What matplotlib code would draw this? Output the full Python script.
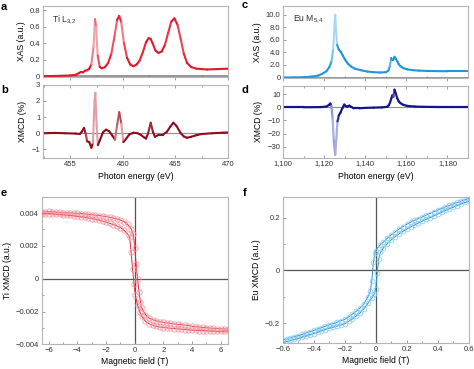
import numpy as np
import matplotlib
matplotlib.use("Agg")
import matplotlib.pyplot as plt
from matplotlib.collections import LineCollection
from matplotlib.ticker import MultipleLocator, FixedLocator, FuncFormatter
from matplotlib.colors import to_rgb

plt.rcParams['font.family'] = ['Liberation Sans', 'DejaVu Sans']
plt.rcParams['mathtext.fontset'] = 'custom'
plt.rcParams['mathtext.rm'] = 'Liberation Sans'
plt.rcParams['mathtext.it'] = 'Liberation Sans'

# ---------------- data ----------------
# a: Ti L3,2 XAS
ti_xas_E = [452.5, 453.0, 454.0, 455.0, 455.5, 455.8, 456.0, 456.2, 456.4, 456.6, 456.8, 457.0,
            457.2, 457.35, 457.45, 457.6, 457.8, 458.0, 458.3, 458.6, 458.9, 459.2, 459.45,
            459.65, 459.85, 460.1, 460.4, 460.7, 461.0, 461.3, 461.6, 461.9, 462.2, 462.45,
            462.65, 462.85, 463.1, 463.4, 463.7, 464.0, 464.3, 464.6, 464.9, 465.2, 465.5,
            465.8, 466.1, 466.5, 467.0, 468.0, 469.0, 470.0]
ti_xas = [0.0, 0.0, 0.003, 0.008, 0.015, 0.035, 0.05, 0.045, 0.065, 0.07, 0.09, 0.14,
          0.35, 0.69, 0.6, 0.25, 0.11, 0.095, 0.11, 0.16, 0.27, 0.48, 0.68,
          0.73, 0.65, 0.4, 0.22, 0.14, 0.12, 0.14, 0.19, 0.29, 0.41, 0.46,
          0.45, 0.39, 0.31, 0.28, 0.3, 0.38, 0.52, 0.66, 0.70, 0.62, 0.45,
          0.27, 0.16, 0.11, 0.09, 0.08, 0.085, 0.09]

# b: Ti XMCD (%)
ti_xmcd_E = [452.5, 453.5, 454.5, 455.5, 455.9, 456.1, 456.3, 456.45, 456.6, 456.8, 457.0, 457.15,
             457.3, 457.38, 457.5, 457.62, 457.8, 458.1, 458.4, 458.7, 459.0, 459.25, 459.45,
             459.65, 459.85, 460.05, 460.3, 460.6, 461.0, 461.4, 461.7, 462.0, 462.2, 462.4,
             462.65, 462.85, 463.05, 463.4, 463.8, 464.2, 464.5, 464.8, 465.1, 465.5, 465.8,
             466.1, 466.5, 467.0, 467.5, 468.5, 469.5, 470.0]
ti_xmcd = [0.0, 0.02, 0.0, -0.02, -0.05, 0.1, 0.33, 0.0, -0.5, -0.55, -0.9, -0.6,
           2.0, 2.5, 0.5, -0.74, -0.45, 0.05, 0.22, 0.12, -0.15, -0.4, 0.5,
           1.3, 0.6, -0.55, -0.35, -0.08, 0.03, 0.0, -0.1, -0.25, -0.33, 0.0,
           0.65, 0.1, -0.22, -0.1, -0.1, 0.1, 0.4, 0.65, 0.45, 0.0, -0.2,
           -0.28, -0.22, -0.12, -0.05, 0.0, 0.03, 0.05]

# c: Eu M5,4 XAS
eu_xas_E = [1100, 1105, 1110, 1114, 1117, 1119, 1121, 1122.5, 1123.5, 1124.3, 1125.0, 1125.3,
            1125.7, 1126.2, 1127, 1128, 1129, 1130, 1131.5, 1133, 1135, 1138, 1141, 1144,
            1147, 1150, 1151.2, 1151.9, 1152.6, 1153.2, 1153.6, 1154.2, 1154.8, 1155.5,
            1156.3, 1157.1, 1158.5, 1160.4, 1163, 1166, 1170, 1175, 1180, 1185, 1190]
eu_xas = [0.0, 0.02, 0.05, 0.15, 0.3, 0.6, 1.0, 1.7, 2.6, 4.5, 8.5, 10.0,
          7.5, 5.2, 4.5, 4.1, 3.5, 2.9, 2.2, 1.75, 1.4, 1.15, 0.95, 0.85,
          0.8, 0.85, 1.1, 1.8, 3.1, 2.8, 2.85, 3.3, 3.0, 2.6,
          2.1, 1.8, 1.5, 1.3, 1.17, 1.1, 1.05, 1.02, 1.0, 1.0, 1.0]

# d: Eu XMCD (%)
eu_xmcd_E = [1100, 1110, 1118, 1121, 1122.3, 1122.9, 1123.4, 1124.0, 1124.6, 1125.3, 1125.8,
             1126.4, 1127.1, 1127.8, 1128.7, 1129.7, 1130.5, 1131.2, 1132.2, 1133.2, 1134.3,
             1137, 1140, 1144, 1148, 1150.6, 1151.4, 1152.0, 1152.6, 1153.1, 1153.6, 1154.2,
             1154.8, 1155.5, 1156.2, 1157.1, 1158.5, 1160.4, 1164, 1168.5, 1175, 1182, 1190]
eu_xmcd = [0.0, 0.0, 0.1, 0.5, 1.8, 2.8, 1.0, -8, -25, -36, -25,
           -10.7, -6, -4.3, -1.0, 2.0, 0.8, 0.5, 1.2, 0.2, -0.8,
           -0.8, -0.5, -0.3, -0.1, 0.3, 1.5, 3.5, 6.5, 8.9, 7.8, 13.3,
           10.5, 6.9, 4.5, 3.1, 1.8, 1.0, 0.5, 0.3, 0.2, 0.2, 0.2]

# e: Ti XMCD hysteresis (upper and lower branches), value in 1e-3 a.u.
ti_H_up = [-6.5, -6.25, -6.0, -5.75, -5.5, -5.25, -5.0, -4.75, -4.5, -4.25, -4.0, -3.75, -3.5,
           -3.25, -3.0, -2.75, -2.5, -2.25, -2.0, -1.75, -1.5, -1.25, -1.0, -0.75, -0.5, -0.25,
           -0.1, 0.0, 0.1, 0.2, 0.3, 0.4, 0.5, 0.75, 1.0, 1.25, 1.5, 1.75, 2.0, 2.25, 2.5, 2.75,
           3.0, 3.25, 3.5, 3.75, 4.0, 4.25, 4.5, 4.75, 5.0, 5.25, 5.5, 5.75, 6.0, 6.25, 6.5]
ti_up = [4.05, 4.08, 4.10, 4.08, 4.06, 4.04, 4.03, 4.02, 4.01, 4.00, 3.99, 3.97, 3.95,
         3.93, 3.90, 3.88, 3.85, 3.82, 3.78, 3.74, 3.70, 3.65, 3.58, 3.48, 3.32, 3.05,
         2.7, 1.9, 0.9, 0.0, -0.8, -1.4, -1.8, -2.2, -2.4, -2.5, -2.57, -2.62, -2.66, -2.70,
         -2.73, -2.76, -2.78, -2.80, -2.83, -2.86, -2.90, -2.93, -2.95, -2.97, -2.99, -3.01,
         -3.02, -3.04, -3.05, -3.06, -3.08]
ti_H_lo = [-6.5, -6.25, -6.0, -5.75, -5.5, -5.25, -5.0, -4.75, -4.5, -4.25, -4.0, -3.75, -3.5,
           -3.25, -3.0, -2.75, -2.5, -2.25, -2.0, -1.75, -1.5, -1.25, -1.0, -0.75, -0.5, -0.35,
           -0.25, -0.15, -0.05, 0.05, 0.2, 0.35, 0.5, 0.75, 1.0, 1.25, 1.5, 1.75, 2.0, 2.25,
           2.5, 2.75, 3.0, 3.25, 3.5, 3.75, 4.0, 4.25, 4.5, 4.75, 5.0, 5.25, 5.5, 5.75, 6.0,
           6.25, 6.5]
ti_lo = [3.95, 3.97, 3.97, 3.96, 3.94, 3.92, 3.90, 3.88, 3.86, 3.83, 3.80, 3.77, 3.74,
         3.70, 3.66, 3.62, 3.57, 3.51, 3.45, 3.38, 3.30, 3.22, 3.12, 2.95, 2.72, 2.55,
         1.6, 0.6, -0.3, -1.0, -1.6, -2.0, -2.3, -2.6, -2.75, -2.83, -2.90, -2.95, -2.98,
         -3.0, -3.02, -3.04, -3.06, -3.08, -3.10, -3.12, -3.14, -3.15, -3.16, -3.17, -3.18,
         -3.19, -3.20, -3.20, -3.21, -3.20, -3.19]

# f: Eu XMCD hysteresis
eu_H_up = [-0.6, -0.575, -0.55, -0.525, -0.5, -0.475, -0.45, -0.425, -0.4, -0.375, -0.35,
           -0.325, -0.3, -0.275, -0.25, -0.225, -0.2, -0.175, -0.15, -0.125, -0.1, -0.075,
           -0.05, -0.035, -0.025, -0.015, -0.005, 0.0, 0.025, 0.05, 0.075, 0.1, 0.125, 0.15,
           0.175, 0.2, 0.225, 0.25, 0.275, 0.3, 0.325, 0.35, 0.375, 0.4, 0.425, 0.45, 0.475,
           0.5, 0.525, 0.55, 0.575, 0.6]
eu_up = [-0.265, -0.261, -0.257, -0.252, -0.248, -0.243, -0.238, -0.233, -0.228, -0.223, -0.218,
         -0.212, -0.207, -0.202, -0.197, -0.192, -0.186, -0.177, -0.166, -0.155, -0.142, -0.126,
         -0.100, -0.08, -0.04, 0.03, 0.065, 0.075, 0.095, 0.108, 0.122, 0.135, 0.146, 0.157,
         0.166, 0.175, 0.183, 0.190, 0.197, 0.203, 0.210, 0.216, 0.223, 0.229, 0.235, 0.241,
         0.247, 0.252, 0.258, 0.263, 0.268, 0.273]
eu_H_lo = [-0.6, -0.575, -0.55, -0.525, -0.5, -0.475, -0.45, -0.425, -0.4, -0.375, -0.35,
           -0.325, -0.3, -0.275, -0.25, -0.225, -0.2, -0.175, -0.15, -0.125, -0.1, -0.075,
           -0.05, -0.025, -0.01, 0.0, 0.01, 0.02, 0.03, 0.05, 0.075, 0.1, 0.125, 0.15, 0.175,
           0.2, 0.225, 0.25, 0.275, 0.3, 0.325, 0.35, 0.375, 0.4, 0.425, 0.45, 0.475, 0.5,
           0.525, 0.55, 0.575, 0.6]
eu_lo = [-0.274, -0.270, -0.266, -0.262, -0.258, -0.254, -0.250, -0.245, -0.240, -0.235, -0.230,
         -0.225, -0.220, -0.216, -0.212, -0.208, -0.203, -0.194, -0.184, -0.173, -0.161, -0.145,
         -0.125, -0.105, -0.09, -0.07, -0.01, 0.045, 0.068, 0.086, 0.102, 0.116, 0.128, 0.139,
         0.148, 0.157, 0.165, 0.172, 0.180, 0.187, 0.194, 0.200, 0.207, 0.214, 0.221, 0.228,
         0.234, 0.240, 0.246, 0.252, 0.258, 0.263]

# ---------------- style helpers ----------------
SPINE = '#b5b5b5'
TICKC = '#777777'
LAB = 6.2
TLAB = 5.5


def style(ax):
    for s in ax.spines.values():
        s.set_color(SPINE)
        s.set_linewidth(0.8)
    ax.tick_params(which='both', direction='in', color=TICKC, width=0.5,
                   labelsize=TLAB, pad=2, labelcolor='#333333')
    ax.tick_params(which='major', length=2.5)
    ax.tick_params(which='minor', length=1.5)


def grad_line(ax, x, y, base, light, lw, thr=2.0, span=8.0):
    x = np.asarray(x, float)
    y = np.asarray(y, float)
    pts = ax.transData.transform(np.column_stack([x, y]))
    segs = np.stack([np.column_stack([x[:-1], y[:-1]]), np.column_stack([x[1:], y[1:]])], axis=1)
    d = np.diff(pts, axis=0)
    slope = np.abs(d[:, 1]) / (np.abs(d[:, 0]) + 1e-6)
    frac = np.clip((slope - thr) / span, 0, 1) * 0.85
    b = np.array(to_rgb(base))
    l = np.array(to_rgb(light))
    cols = b[None, :] * (1 - frac[:, None]) + l[None, :] * frac[:, None]
    lc = LineCollection(segs, colors=cols, linewidths=lw, capstyle='round', joinstyle='round')
    ax.add_collection(lc)


W, H = 474, 369
fig = plt.figure(figsize=(W / 100, H / 100), dpi=100)


def rect(l, t, r, b):
    return [l / W, 1 - b / H, (r - l) / W, (b - t) / H]


ax_a = fig.add_axes(rect(43, 6, 228, 76.5))
ax_b = fig.add_axes(rect(43, 84.7, 228, 158.3))
ax_c = fig.add_axes(rect(283.3, 6, 468, 77.7))
ax_d = fig.add_axes(rect(283.3, 85.7, 468, 157.7))
ax_e = fig.add_axes(rect(41.7, 196.7, 227.7, 344.3))
ax_f = fig.add_axes(rect(282.7, 196.7, 468.7, 343.3))

for ax in (ax_a, ax_b, ax_c, ax_d, ax_e, ax_f):
    style(ax)

# ---- a ----
ax_a.set_xlim(452.4, 470)
ax_a.set_ylim(-0.005, 0.85)
ax_a.axhline(0, color='#8c8c8c', lw=1.3, zorder=1)
grad_line(ax_a, ti_xas_E, ti_xas, '#e3162a', '#f7b6bd', 1.5)
ax_a.set_yticks([0, 0.2, 0.4, 0.6, 0.8])
ax_a.yaxis.set_major_formatter(FuncFormatter(lambda v, p: '0' if abs(v) < 1e-9 else f'{v:.1f}'))
ax_a.xaxis.set_major_locator(MultipleLocator(5))
ax_a.xaxis.set_minor_locator(MultipleLocator(2.5))
ax_a.tick_params(axis='x', labelbottom=False, direction='out')
ax_a.set_ylabel('XAS (a.u.)', fontsize=LAB, labelpad=3)
ax_a.text(0.05, 0.9, r'Ti L$_{3{,}2}$', transform=ax_a.transAxes, fontsize=6.2, va='top', color='#333333')

# ---- b ----
ax_b.set_xlim(452.4, 470)
ax_b.set_ylim(-1.55, 3)
ax_b.axhline(0, color='#8c8c8c', lw=0.8, zorder=1)
grad_line(ax_b, ti_xmcd_E, ti_xmcd, '#8e0d1c', '#f2b8be', 1.5, thr=3.0, span=6.0)
ax_b.set_yticks([-1, 0, 1, 2, 3])
ax_b.yaxis.set_major_formatter(FuncFormatter(lambda v, p: f'{int(v)}'.replace('-', '\u2212')))
ax_b.xaxis.set_major_locator(FixedLocator([455, 460, 465, 470]))
ax_b.xaxis.set_minor_locator(MultipleLocator(2.5))
ax_b.tick_params(axis='x', top=True, which='both')
ax_b.set_ylabel('XMCD (%)', fontsize=LAB, labelpad=3)
ax_b.set_xlabel('Photon energy (eV)', fontsize=LAB, labelpad=3)

# ---- c ----
ax_c.set_xlim(1100, 1190)
ax_c.set_ylim(-0.03, 11.4)
ax_c.axhline(0, color='#8c8c8c', lw=1.3, zorder=1)
grad_line(ax_c, eu_xas_E, eu_xas, '#1f95de', '#bfe3f8', 1.5)
ax_c.set_yticks([0, 2, 4, 6, 8, 10])
ax_c.yaxis.set_major_formatter(FuncFormatter(lambda v, p: '0' if abs(v) < 1e-9 else f'{v:.1f}'))
ax_c.xaxis.set_major_locator(MultipleLocator(20))
ax_c.xaxis.set_minor_locator(MultipleLocator(10))
ax_c.tick_params(axis='x', labelbottom=False, direction='out')
ax_c.set_ylabel('XAS (a.u.)', fontsize=LAB, labelpad=3)
ax_c.text(0.05, 0.9, r'Eu M$_{5{,}4}$', transform=ax_c.transAxes, fontsize=6.2, va='top', color='#333333')

# ---- d ----
ax_d.set_xlim(1100, 1190)
ax_d.set_ylim(-38.2, 16.3)
ax_d.axhline(0, color='#8c8c8c', lw=0.8, zorder=1)
grad_line(ax_d, eu_xmcd_E, eu_xmcd, '#15158a', '#c8c8ef', 1.6, thr=3.0, span=8.0)
ax_d.set_yticks([-30, -20, -10, 0, 10])
ax_d.yaxis.set_major_formatter(FuncFormatter(lambda v, p: f'{int(v)}'.replace('-', '\u2212')))
ax_d.xaxis.set_major_locator(MultipleLocator(20))
ax_d.xaxis.set_minor_locator(MultipleLocator(10))
ax_d.xaxis.set_major_formatter(FuncFormatter(lambda v, p: f'{int(v):,}'))
ax_d.tick_params(axis='x', top=True, which='both')
ax_d.set_ylabel('XMCD (%)', fontsize=LAB, labelpad=3)
ax_d.set_xlabel('Photon energy (eV)', fontsize=LAB, labelpad=3)

# ---- e ----
ax_e.set_xlim(-6.5, 6.5)
ax_e.set_ylim(-0.004, 0.005)
ax_e.axhline(0, color='#555555', lw=0.9, zorder=1)
ax_e.axvline(0, color='#555555', lw=0.9, zorder=1)
for Hs, Ms in ((ti_H_up, ti_up), (ti_H_lo, ti_lo)):
    ax_e.plot(Hs, np.asarray(Ms) * 1e-3, color='#e3283a', lw=0.7, zorder=3,
              marker='o', ms=3.8, mfc='none', mec='#f29aa4', mew=0.6)
ax_e.set_yticks([-0.004, -0.002, 0, 0.002, 0.004])
ax_e.yaxis.set_major_formatter(FuncFormatter(lambda v, p: '0' if abs(v) < 1e-12 else f'{v:.3f}'.replace('-', '\u2212')))
ax_e.yaxis.set_minor_locator(MultipleLocator(0.001))
ax_e.xaxis.set_major_locator(MultipleLocator(2))
ax_e.xaxis.set_minor_locator(MultipleLocator(1))
ax_e.xaxis.set_major_formatter(FuncFormatter(lambda v, p: f'{int(round(v))}'.replace('-', '\u2212')))
ax_e.set_ylabel('Ti XMCD (a.u.)', fontsize=LAB, labelpad=3)
ax_e.set_xlabel('Magnetic field (T)', fontsize=LAB, labelpad=2)

# ---- f ----
ax_f.set_xlim(-0.6, 0.6)
ax_f.set_ylim(-0.277, 0.28)
ax_f.axhline(0, color='#555555', lw=0.9, zorder=1)
ax_f.axvline(0, color='#555555', lw=0.9, zorder=1)
for Hs, Ms in ((eu_H_up, eu_up), (eu_H_lo, eu_lo)):
    ax_f.plot(Hs, Ms, color='#2b94d6', lw=0.7, zorder=3,
              marker='o', ms=3.4, mfc='none', mec='#8fcdf0', mew=0.6)
ax_f.set_yticks([-0.2, 0, 0.2])
ax_f.yaxis.set_major_formatter(FuncFormatter(lambda v, p: '0' if abs(v) < 1e-9 else f'{v:.1f}'.replace('-', '\u2212')))
ax_f.yaxis.set_minor_locator(MultipleLocator(0.1))
ax_f.xaxis.set_major_locator(MultipleLocator(0.2))
ax_f.xaxis.set_minor_locator(MultipleLocator(0.1))
ax_f.xaxis.set_major_formatter(FuncFormatter(lambda v, p: '0' if abs(v) < 1e-9 else f'{v:.1f}'.replace('-', '\u2212')))
ax_f.set_ylabel('Eu XMCD (a.u.)', fontsize=LAB, labelpad=3)
ax_f.set_xlabel('Magnetic field (T)', fontsize=LAB, labelpad=2)

# panel letters
for lbl, (px, py) in zip('abcdef', [(1, 7), (1, 90), (242, 5), (242, 90), (1, 193), (243, 193)]):
    fig.text(px / W, 1 - py / H, lbl, fontsize=8, fontweight='bold', ha='left', va='center')

fig.savefig('out.png', dpi=100)
